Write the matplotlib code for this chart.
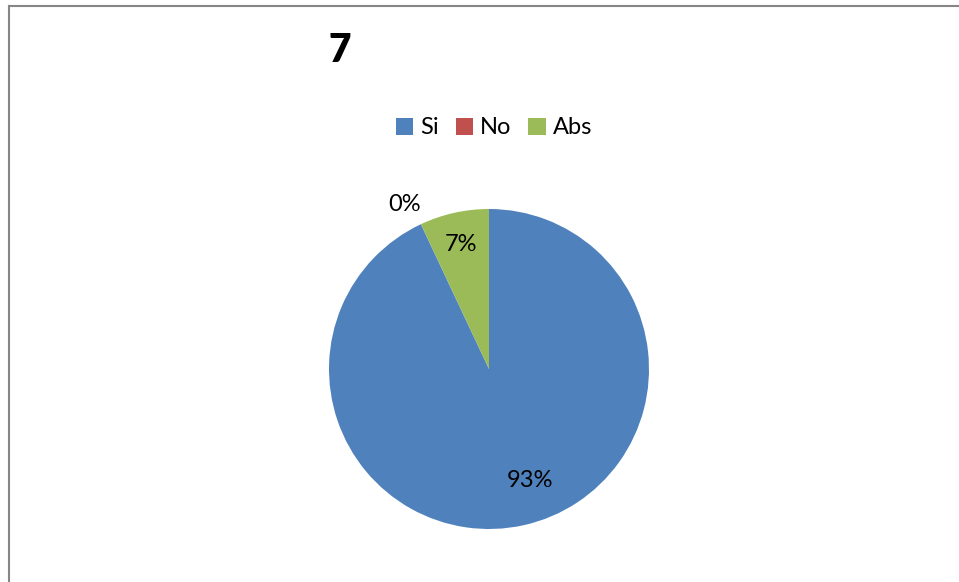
import matplotlib
matplotlib.use("Agg")
import matplotlib.pyplot as plt
from matplotlib.lines import Line2D

plt.rcParams['font.family'] = ['Lato', 'DejaVu Sans']

title = "7"
labels = ["Si", "No", "Abs"]
values = [93, 0, 7]
colors = ["#4F81BD", "#C0504D", "#9BBB59"]

W, H = 959, 582
fig = plt.figure(figsize=(W / 100, H / 100), dpi=100)

# chart frame (only top and left edges visible in the crop)
fig.add_artist(Line2D([8.5 / W, 1.0], [1 - 5.5 / H, 1 - 5.5 / H], color="#868686", lw=1.5))
fig.add_artist(Line2D([8.5 / W, 8.5 / W], [1 - 5.5 / H, 0], color="#868686", lw=1.5))

fig.text(340 / W, 1 - 50 / H, title, fontsize=28, fontweight="heavy", ha="center", va="center")

cx, cy, r = 489, 369, 160
ax = fig.add_axes([(cx - r) / W, (H - cy - r) / H, 2 * r / W, 2 * r / H])
wedges, _ = ax.pie(values, colors=colors, startangle=90, counterclock=False, radius=1)
ax.set_xlim(-1, 1)
ax.set_ylim(-1, 1)
ax.set_aspect("auto")
ax.axis("off")

# data labels, placed like Excel's best fit
label_pos = [(0.256, -0.694), (-0.525, 1.03), (-0.175, 0.78)]
total = sum(values)
for v, (x, y) in zip(values, label_pos):
    ax.text(x, y, "{:.0f}%".format(100 * v / total), fontsize=17, ha="center", va="center")

fig.legend(handles=wedges, labels=labels, loc="center", bbox_to_anchor=(494 / W, 1 - 128 / H),
           ncol=3, frameon=False, fontsize=17, handlelength=0.75, handleheight=0.75,
           handletextpad=0.3, columnspacing=0.7)

fig.savefig("out.png", dpi=100)
